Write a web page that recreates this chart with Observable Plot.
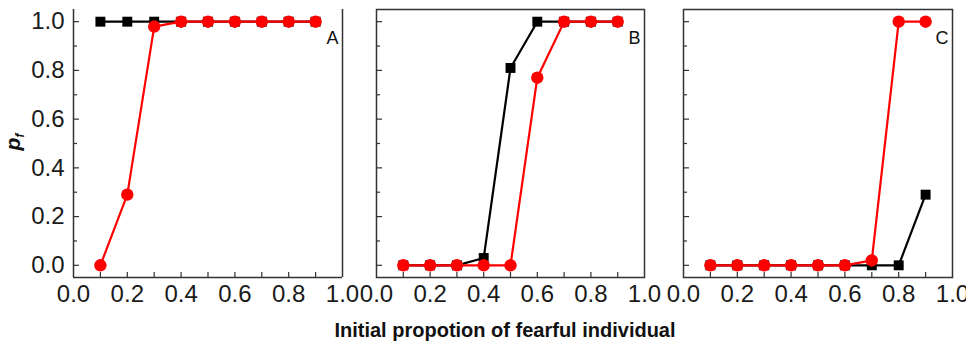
<!DOCTYPE html>
<html><head><meta charset="utf-8">
<script src="https://cdn.jsdelivr.net/npm/d3@7"></script>
<script src="https://cdn.jsdelivr.net/npm/@observablehq/plot@0.6"></script>
<style>
body{margin:0;background:#fff;}
#chart{position:relative;width:966px;height:343px;overflow:hidden;font-family:"Liberation Sans",Arial,sans-serif;background:#fff;}
#chart svg{position:absolute;top:0;overflow:visible;}
</style></head><body><div id="chart"></div>
<script>
// ---- data ----
const xValues = [0.1, 0.2, 0.3, 0.4, 0.5, 0.6, 0.7, 0.8, 0.9];
const panelLabels = ["A", "B", "C"];
const blackA = [1, 1, 1, 1, 1, 1, 1, 1, 1];
const redA   = [0, 0.29, 0.98, 1, 1, 1, 1, 1, 1];
const blackB = [0, 0, 0, 0.03, 0.81, 1, 1, 1, 1];
const redB   = [0, 0, 0, 0, 0, 0.77, 1, 1, 1];
const blackC = [0, 0, 0, 0, 0, 0, 0, 0, 0.29];
const redC   = [0, 0, 0, 0, 0, 0, 0.02, 1, 1];
const xTickLabels = [0, 0.2, 0.4, 0.6, 0.8, 1.0];
const xMinorTicks = [0.1, 0.2, 0.3, 0.4, 0.5, 0.6, 0.7, 0.8, 0.9];
const yTickLabels = [0, 0.2, 0.4, 0.6, 0.8, 1.0];
const yMinorTicks = [0.1, 0.3, 0.5, 0.7, 0.9];
const xTitle = "Initial propotion of fearful individual";

const chart = document.getElementById("chart");
const fmt = d3.format(".1f");
const noLabel = () => "";
const FONT = '"Liberation Sans", Arial, sans-serif';

function panel(label, black, red, frameLeft, frameWidth, showYLabels, fullFrame) {
  const ml = 50, mr = 30;
  const bl = xValues.map((x, i) => ({x, y: black[i]}));
  const rd = xValues.map((x, i) => ({x, y: red[i]}));
  const marks = [];
  if (fullFrame) {
    marks.push(Plot.frame({stroke: "#333", strokeWidth: 1.5}));
  } else {
    marks.push(Plot.ruleX([0, 1], {stroke: "#333", strokeWidth: 1.5}));
    marks.push(Plot.ruleY([-0.05], {stroke: "#333", strokeWidth: 1.5}));
  }
  marks.push(
    Plot.axisX(xTickLabels, {tickSize: 0, tickPadding: 7, tickFormat: fmt, fontSize: 24, label: null, fill: "#1a1a1a"}),
    Plot.axisX(xMinorTicks, {tickSize: -5, tickFormat: noLabel, label: null, stroke: "#333", strokeWidth: 1.2}),
    Plot.axisY(yTickLabels, {tickSize: -6, tickFormat: noLabel, label: null, stroke: "#333", strokeWidth: 1.2}),
    Plot.axisY(yMinorTicks, {tickSize: -4, tickFormat: noLabel, label: null, stroke: "#333", strokeWidth: 1.2})
  );
  if (showYLabels) {
    marks.push(Plot.axisY(yTickLabels, {tickSize: 0, tickPadding: 9, tickFormat: fmt, fontSize: 24, label: null, fill: "#1a1a1a"}));
  }
  marks.push(
    Plot.line(bl, {x: "x", y: "y", stroke: "#000", strokeWidth: 2.2}),
    Plot.dot(bl, {x: "x", y: "y", symbol: "square", fill: "#000", r: 5.6}),
    Plot.line(rd, {x: "x", y: "y", stroke: "#f00", strokeWidth: 2.2}),
    Plot.dot(rd, {x: "x", y: "y", symbol: "circle", fill: "#f00", r: 6.2}),
    Plot.text([label], {frameAnchor: "top-right", textAnchor: "end", dx: -4, dy: 22, fontSize: 18, fill: "#111"})
  );
  const p = Plot.plot({
    width: ml + frameWidth + mr,
    height: 343,
    marginLeft: ml, marginRight: mr, marginTop: 9, marginBottom: 66,
    style: {fontFamily: FONT, background: "transparent", overflow: "visible"},
    x: {domain: [0, 1], label: null},
    y: {domain: [-0.05, 1.05], label: null},
    marks
  });
  p.style.left = (frameLeft - ml) + "px";
  chart.appendChild(p);
}

panel(panelLabels[0], blackA, redA, 73, 269, true, false);
panel(panelLabels[1], blackB, redB, 376, 268, false, true);
panel(panelLabels[2], blackC, redC, 683, 269, false, true);

// axis titles overlay
const ov = d3.select(chart).append("svg")
  .attr("width", 966).attr("height", 343)
  .style("left", "0px").style("pointer-events", "none");
ov.append("text")
  .attr("x", 505).attr("y", 337)
  .attr("text-anchor", "middle")
  .attr("font-family", FONT).attr("font-weight", "bold").attr("font-size", 20)
  .attr("fill", "#111")
  .text(xTitle);
const yt = ov.append("text")
  .attr("transform", "translate(20,142) rotate(-90)")
  .attr("text-anchor", "middle")
  .attr("font-family", FONT).attr("font-weight", "bold").attr("font-style", "italic")
  .attr("font-size", 21).attr("fill", "#111");
yt.append("tspan").text("p");
yt.append("tspan").attr("font-size", 12).attr("dy", 4).text("f");
</script>
</body></html>
